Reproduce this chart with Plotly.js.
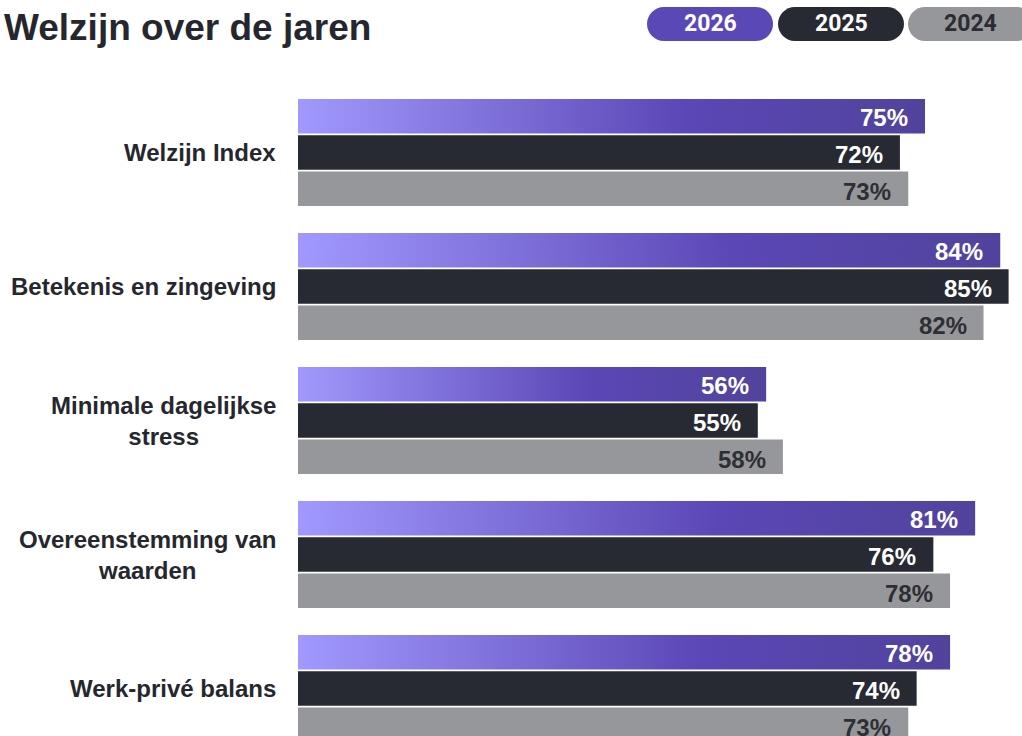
<!DOCTYPE html>
<html><head><meta charset="utf-8">
<script src="https://cdn.plot.ly/plotly-3.0.1.min.js"></script>
<style>html,body{margin:0;padding:0;background:#fff}#chart{width:1022px;height:736px}</style>
</head><body><div id="chart"></div>
<script>
// ---- data ----
const categories = ['Welzijn Index', 'Betekenis en zingeving', 'Minimale dagelijkse<br>stress', 'Overeenstemming van<br>waarden', 'Werk-privé balans'];
const years = ['2026', '2025', '2024'];
const values2026 = [75, 84, 56, 81, 78];
const values2025 = [72, 85, 55, 76, 74];
const values2024 = [73, 82, 58, 78, 73];
const chartTitle = 'Welzijn over de jaren';

// ---- style ----
const W = 1022, H = 736, ML = 298, MR = 0, MT = 80, MB = 0;
const PW = W - ML - MR, PH = H - MT - MB;
const barColors = ['#5b48b7', '#272a33', '#96979b'];
const valueColors = ['#ffffff', '#ffffff', '#2e2f35'];
const pillTextColors = ['#ffffff', '#ffffff', '#2b2c31'];
const darkText = '#26272e';
const boldFont = '"Liberation Sans", Arial, sans-serif';
const series = [values2026, values2025, values2024];
const barOffsets = [37, 0, -37];

const traces = series.map((vals, i) => ({
  type: 'bar', orientation: 'h', name: years[i],
  x: vals, y: categories,
  marker: {color: barColors[i], line: {width: 0}},
  hoverinfo: 'skip'
}));

const annotations = [];
// category labels
categories.forEach(c => annotations.push({
  xref: 'x', yref: 'y', x: 0, y: c, text: c, showarrow: false,
  xanchor: 'right', yanchor: 'middle', xshift: -20, align: 'center',
  font: {family: boldFont, size: 24, color: darkText, weight: 700}
}));
// value labels
series.forEach((vals, i) => vals.forEach((v, j) => annotations.push({
  xref: 'x', yref: 'y', x: v, y: categories[j], text: v + '%', showarrow: false,
  xanchor: 'right', yanchor: 'middle', xshift: -15, yshift: barOffsets[i] - 2,
  font: {family: boldFont, size: 24, color: valueColors[i], weight: 700}
})));

// legend pills (pixel geometry converted to paper coords)
const px2x = p => (p - ML) / PW;
const px2y = p => (H - MB - p) / PH;
function pillPath(x0, x1, y0, y1) {
  const r = (y1 - y0) / 2, k = 0.5523 * r;
  const pts = [
    ['M', [x0 + r, y0]],
    ['L', [x1 - r, y0]],
    ['C', [x1 - r + k, y0], [x1, y0 + r - k], [x1, y0 + r]],
    ['C', [x1, y0 + r + k], [x1 - r + k, y1], [x1 - r, y1]],
    ['L', [x0 + r, y1]],
    ['C', [x0 + r - k, y1], [x0, y0 + r + k], [x0, y0 + r]],
    ['C', [x0, y0 + r - k], [x0 + r - k, y0], [x0 + r, y0]]
  ];
  return pts.map(s => s[0] + s.slice(1).map(p => px2x(p[0]).toFixed(5) + ',' + px2y(p[1]).toFixed(5)).join(' ')).join(' ') + ' Z';
}
const pillX = [[647, 773], [778, 904], [908, 1034]];
const pillY = [7, 41];
const shapes = pillX.map((px, i) => ({
  type: 'path', xref: 'paper', yref: 'paper', path: pillPath(px[0], px[1], pillY[0], pillY[1]),
  fillcolor: barColors[i], line: {width: 0}, layer: 'above'
}));
pillX.forEach((px, i) => annotations.push({
  xref: 'paper', yref: 'paper', x: px2x(i === 2 ? 970 : (px[0] + px[1]) / 2), y: px2y((pillY[0] + pillY[1]) / 2),
  text: years[i], showarrow: false, xanchor: 'center', yanchor: 'middle',
  font: {family: 'Roboto, sans-serif', size: 23, color: pillTextColors[i], weight: 700}
}));

const layout = {
  width: W, height: H,
  margin: {l: ML, r: MR, t: MT, b: MB, pad: 0},
  paper_bgcolor: '#ffffff', plot_bgcolor: '#ffffff',
  title: {text: chartTitle, x: 4 / W, xanchor: 'left', xref: 'container', y: 1 - 27 / H, yanchor: 'middle', yref: 'container',
    font: {family: boldFont, size: 37, color: darkText, weight: 700}},
  barmode: 'group', bargap: 0.187, bargroupgap: 0.05,
  showlegend: false,
  xaxis: {range: [0, PW / 8.36], visible: false, fixedrange: true},
  yaxis: {type: 'category', range: [(H - 152.5) / 134, (MT - 152.5) / 134], showticklabels: false, showgrid: false, zeroline: false, showline: false, ticks: '', fixedrange: true},
  annotations: annotations, shapes: shapes
};

Plotly.newPlot('chart', traces, layout, {displayModeBar: false, staticPlot: true}).then(gd => {
  const svg = gd.querySelector('svg.main-svg');
  const defs = svg.querySelector('defs');
  const NS = 'http://www.w3.org/2000/svg';
  const grad = document.createElementNS(NS, 'linearGradient');
  grad.setAttribute('id', 'grad2026');
  grad.setAttribute('x1', '0'); grad.setAttribute('y1', '0'); grad.setAttribute('x2', '1'); grad.setAttribute('y2', '0');
  [['0', '#a199fd'], ['0.62', '#5b47b6'], ['1', '#51439c']].forEach(s => {
    const st = document.createElementNS(NS, 'stop');
    st.setAttribute('offset', s[0]); st.setAttribute('stop-color', s[1]);
    grad.appendChild(st);
  });
  defs.appendChild(grad);
  const tr = gd.querySelectorAll('g.barlayer g.trace')[0];
  tr.querySelectorAll('path').forEach(p => { p.style.fill = 'url(#grad2026)'; });
});
</script></body></html>
